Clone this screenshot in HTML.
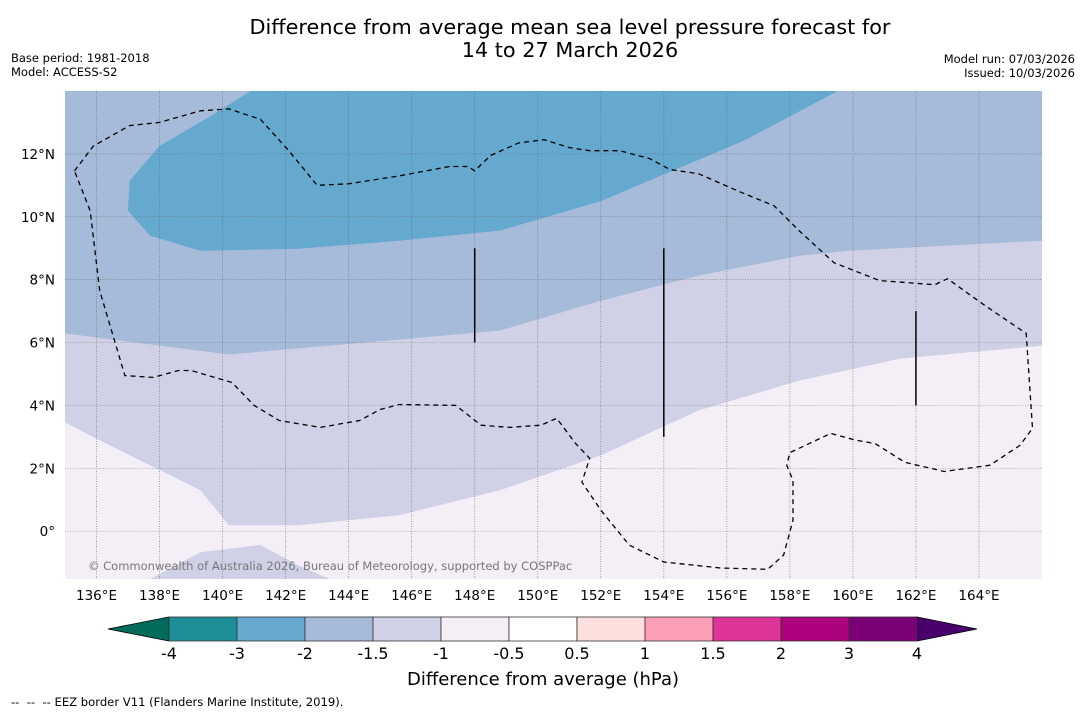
<!DOCTYPE html>
<html><head><meta charset="utf-8"><style>
body{margin:0;background:#fff;width:1085px;height:713px;overflow:hidden;font-family:"Liberation Sans","DejaVu Sans",sans-serif;}
svg text{font-family:"DejaVu Sans","Liberation Sans",sans-serif;}
</style></head><body>
<svg id="chart" width="1085" height="713" xmlns="http://www.w3.org/2000/svg">
<text x="570" y="34" font-size="20.8" text-anchor="middle">Difference from average mean sea level pressure forecast for</text>
<text x="570" y="57" font-size="20.8" text-anchor="middle">14 to 27 March 2026</text>
<text x="11" y="62" font-size="11.5">Base period: 1981-2018</text>
<text x="11" y="76" font-size="11.5">Model: ACCESS-S2</text>
<text x="1075" y="63" font-size="11.5" text-anchor="end">Model run: 07/03/2026</text>
<text x="1075" y="77" font-size="11.5" text-anchor="end">Issued: 10/03/2026</text>
<defs><clipPath id="mapclip"><rect x="65" y="91" width="977" height="488"/></clipPath></defs>
<g id="map" clip-path="url(#mapclip)"></g>
<g id="axes"></g>
<g id="cbar"></g>
<text x="543" y="685" font-size="18" text-anchor="middle">Difference from average (hPa)</text>
<text x="11" y="706" font-size="11.6" xml:space="preserve">--  --  -- EEZ border V11 (Flanders Marine Institute, 2019).</text>
</svg>
<script>
const lonMin=135, lonMax=166, latMin=-1.52, latMax=14;
const lonTicks=[136,138,140,142,144,146,148,150,152,154,156,158,160,162,164];
const latTicks=[0,2,4,6,8,10,12];
const bandAlon=[135,140.2,148.8,152.0,155.1,158.3,159.9,166.0];
const bandAlat=[6.29,5.62,6.38,7.33,8.13,8.76,8.92,9.24];
const bandBlon=[135,136.1,139.3,140.2,142.4,145.6,148.8,152.0,155.1,158.3,161.5,166];
const bandBlat=[3.46,2.89,1.3,0.19,0.19,0.51,1.3,2.41,3.84,4.79,5.49,5.9];
const blobLon=[137.7,139.3,141.2,142.4,143.4];
const blobLat=[-1.52,-0.67,-0.44,-1.08,-1.52];
const darkLon=[137.0,137.05,138.0,139.9,141.2,159.9,156.5,152.0,148.8,145.6,142.4,139.3,137.7];
const darkLat=[10.19,11.14,12.25,13.37,14.2,14.2,12.4,10.5,9.56,9.24,8.98,8.92,9.4];
const eezLon=[135.3,135.9,137.05,138.0,139.3,140.2,141.2,142.1,143.0,144.0,145.6,147.2,147.8,148.0,148.5,149.4,150.2,151.0,151.65,152.6,153.55,154.2,155.1,156.4,157.5,158.3,159.4,160.85,162.6,163.0,164.2,165.5,165.7,165.3,164.35,162.9,161.65,160.7,160.1,159.3,158.0,157.9,158.1,158.1,157.8,157.3,155.8,154.0,152.9,152.0,151.4,151.65,151.2,150.6,150.1,149.1,148.2,147.4,145.6,145.0,144.35,143.1,141.8,141.0,140.3,139.0,138.6,137.8,136.9,136.1,135.8,135.3];
const eezLat=[11.46,12.25,12.9,13.0,13.37,13.43,13.1,12.1,11.0,11.05,11.3,11.6,11.6,11.46,11.95,12.35,12.45,12.2,12.1,12.1,11.85,11.5,11.37,10.8,10.35,9.55,8.54,7.97,7.84,8.03,7.17,6.29,3.27,2.73,2.1,1.9,2.19,2.79,2.89,3.11,2.5,2.1,1.62,0.35,-0.76,-1.21,-1.17,-0.98,-0.44,0.67,1.56,2.32,2.79,3.59,3.37,3.3,3.37,4.0,4.03,3.87,3.52,3.3,3.52,4.0,4.73,5.11,5.11,4.89,4.95,7.65,10.19,11.46];
const segLon=[148,154,162];
const segLat0=[6,3,4];
const segLat1=[9,9,7];
const cbLabels=["-4","-3","-2","-1.5","-1","-0.5","0.5","1","1.5","2","3","4"];
const cbColors=["#1e8f98","#65a9cf","#a6bad9","#d0d1e6","#f4eef6","#ffffff","#fde0dd","#fa9fb5","#dd3497","#ae017e","#7a0177"];
const cbLow="#016c59", cbHigh="#49006a";

const NS="http://www.w3.org/2000/svg";
const X0=65,X1=1042,Y0=91,Y1=579;
const xs=lon=>X0+(lon-lonMin)/(lonMax-lonMin)*(X1-X0);
const ys=lat=>Y1-(lat-latMin)/(latMax-latMin)*(Y1-Y0);
function mk(tag,attrs,parent){const e=document.createElementNS(NS,tag);for(const k in attrs)e.setAttribute(k,attrs[k]);parent.appendChild(e);return e;}
const map=document.getElementById('map'), axes=document.getElementById('axes'), cbar=document.getElementById('cbar');
function pts(lo,la){return lo.map((v,i)=>xs(v).toFixed(1)+','+ys(la[i]).toFixed(1));}

let e=mk('rect',{x:X0,y:Y0,width:X1-X0,height:Y1-Y0,fill:'#a6bad9'},map);


let p=pts(bandAlon,bandAlat).concat([xs(lonMax)+','+ys(latMin),xs(lonMin)+','+ys(latMin)]);
e=mk('polygon',{points:p.join(' '),fill:'#d0d1e6'},map);


p=pts(bandBlon,bandBlat).concat([xs(lonMax)+','+ys(latMin),xs(lonMin)+','+ys(latMin)]);
e=mk('polygon',{points:p.join(' '),fill:'#f4eef6'},map);


e=mk('polygon',{points:pts(blobLon,blobLat).join(' '),fill:'#d0d1e6'},map);


e=mk('polygon',{points:pts(darkLon,darkLat).join(' '),fill:'#65a9cf'},map);


lonTicks.forEach(l=>{
  const g=mk('line',{x1:xs(l),x2:xs(l),y1:Y0,y2:Y1,stroke:'#666','stroke-width':0.8,'stroke-dasharray':'1,1.5','stroke-opacity':0.75},map);
  
  
  const t=mk('text',{x:xs(l),y:600,'font-size':13.5,'text-anchor':'middle'},axes);t.textContent=l+'°E';
  
  
});
latTicks.forEach(l=>{
  const g=mk('line',{x1:X0,x2:X1,y1:ys(l),y2:ys(l),stroke:'#666','stroke-width':0.7,'stroke-dasharray':'1,1.5','stroke-opacity':0.7},map);
  
  
  const t=mk('text',{x:55,y:ys(l)+5,'font-size':13.5,'text-anchor':'end'},axes);t.textContent=l===0?'0°':l+'°N';
  
  
});
e=mk('polyline',{points:pts(eezLon,eezLat).join(' '),fill:'none',stroke:'#000','stroke-width':1.3,'stroke-dasharray':'5,4'},map);


segLon.forEach((l,i)=>{
  const s=mk('line',{x1:xs(l),x2:xs(l),y1:ys(segLat0[i]),y2:ys(segLat1[i]),stroke:'#000','stroke-width':1.5},map);
  
  
});
const cr=mk('text',{x:88,y:570,'font-size':11.5,fill:'#777'},map);cr.textContent='© Commonwealth of Australia 2026, Bureau of Meteorology, supported by COSPPac';


const CB0=169,CB1=917,CBY=617,CBH=24,bw=(CB1-CB0)/cbColors.length;
e=mk('polygon',{points:`108,${CBY+CBH/2} ${CB0},${CBY} ${CB0},${CBY+CBH}`,fill:cbLow,stroke:'#000','stroke-width':0.8},cbar);


e=mk('polygon',{points:`977,${CBY+CBH/2} ${CB1},${CBY} ${CB1},${CBY+CBH}`,fill:cbHigh,stroke:'#000','stroke-width':0.8},cbar);


cbColors.forEach((c,i)=>{
  const r=mk('rect',{x:CB0+i*bw,y:CBY,width:bw,height:CBH,fill:c,stroke:'#333','stroke-width':0.8},cbar);
  
  
});
cbLabels.forEach((s,i)=>{
  const t=mk('text',{x:CB0+i*bw,y:659,'font-size':16,'text-anchor':'middle'},cbar);t.textContent=s;
  
  
});
</script>
</body></html>
